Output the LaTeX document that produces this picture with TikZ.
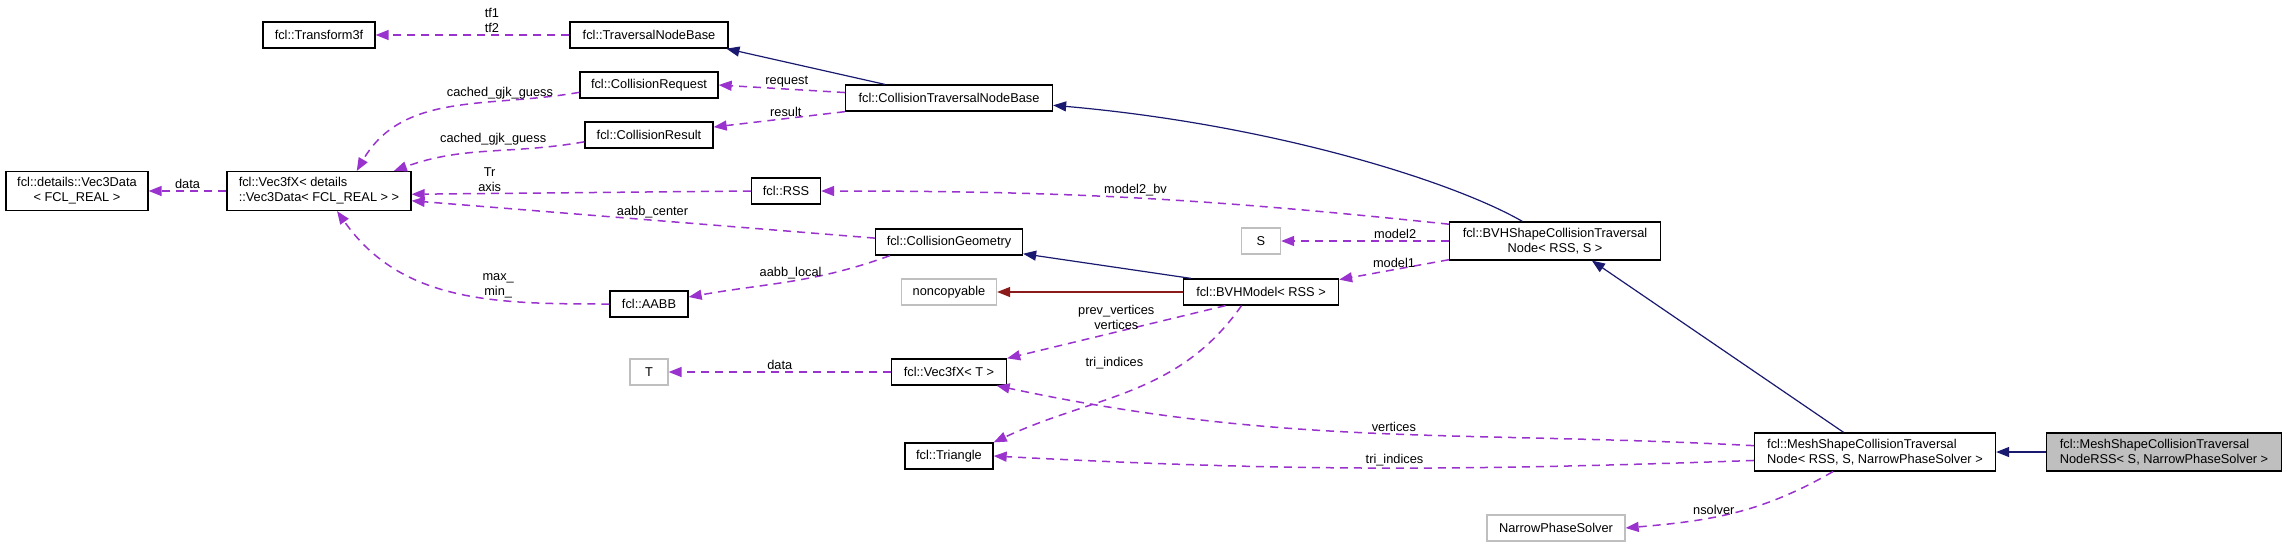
\documentclass[tikz,border=0pt]{standalone}
\usepackage{fontspec}
\setmainfont{Liberation Sans}
\usepackage{tikz}
\usetikzlibrary{arrows.meta}
\definecolor{dxpurple}{HTML}{9A32CD}
\definecolor{dxnavy}{HTML}{191970}
\definecolor{dxred}{HTML}{8B1A1A}
\definecolor{dxgray}{HTML}{BFBFBF}

\begin{document}
\begin{tikzpicture}[x=1pt, y=1pt, font=\fontsize{12.8}{15}\selectfont,
  cls/.style={draw=black, line width=1.3pt, fill=white, inner xsep=9pt, inner ysep=6pt, minimum height=26pt},
  extcls/.style={cls, draw=dxgray},
  curcls/.style={cls, fill=dxgray},
  usesedge/.style={draw=dxpurple, line width=1.5pt, dash pattern=on 8pt off 6pt, -{Triangle[length=13pt, width=10pt]}},
  inhedge/.style={draw=dxnavy, line width=1.2pt, -{Triangle[length=13pt, width=10pt]}},
  privedge/.style={draw=dxred, line width=1.2pt, -{Triangle[length=13pt, width=10pt]}},
  lbl/.style={inner sep=1.5pt, align=center}]
  \useasboundingbox (0,0) rectangle (2288,-547);
  \node[cls, align=center, minimum width=142pt] (vecdata) at (77,-191) {fcl::details::Vec3Data\\< FCL\_REAL >};
  \node[cls, align=left, minimum width=184pt] (vecfx) at (319,-191) {fcl::Vec3fX< details\\::Vec3Data< FCL\_REAL > >};
  \node[cls, minimum width=112pt] (transform) at (319,-35) {fcl::Transform3f};
  \node[cls, minimum width=158pt] (travbase) at (649,-35) {fcl::TraversalNodeBase};
  \node[cls, minimum width=138pt] (colreq) at (649,-85) {fcl::CollisionRequest};
  \node[cls, minimum width=128pt] (colres) at (649,-135) {fcl::CollisionResult};
  \node[cls, minimum width=69pt] (rss) at (786,-191) {fcl::RSS};
  \node[cls, minimum width=78pt] (aabb) at (649,-304) {fcl::AABB};
  \node[extcls, minimum width=38pt] (tnode) at (649,-372) {T};
  \node[cls, minimum width=207pt] (ctnb) at (949,-98) {fcl::CollisionTraversalNodeBase};
  \node[cls, minimum width=147pt] (colgeom) at (949,-242) {fcl::CollisionGeometry};
  \node[extcls, minimum width=95pt] (noncopy) at (949,-292) {noncopyable};
  \node[cls, minimum width=115pt] (vecfxT) at (949,-372) {fcl::Vec3fX< T >};
  \node[cls, minimum width=88pt] (triangle) at (949,-456) {fcl::Triangle};
  \node[extcls, minimum width=39pt] (snode) at (1261,-241) {S};
  \node[cls, minimum width=155pt] (bvhmodel) at (1261,-292) {fcl::BVHModel< RSS >};
  \node[cls, align=center, minimum width=211pt] (bvhshape) at (1555,-241) {fcl::BVHShapeCollisionTraversal\\Node< RSS, S >};
  \node[extcls, minimum width=138pt] (nps) at (1556,-528) {NarrowPhaseSolver};
  \node[cls, align=left, minimum width=241pt] (meshshape) at (1875,-452) {fcl::MeshShapeCollisionTraversal\\Node< RSS, S, NarrowPhaseSolver >};
  \node[curcls, align=left, minimum width=235pt] (noderss) at (2164,-452) {fcl::MeshShapeCollisionTraversal\\NodeRSS< S, NarrowPhaseSolver >};

  \draw[usesedge] (travbase) -- node[lbl, above, pos=0.4] {tf1\\tf2} (transform);
  \draw[inhedge] (ctnb.168) -- (travbase.-10);
  \draw[usesedge] (ctnb.177) -- node[lbl, above, pos=0.46] {request} (colreq.east);
  \draw[usesedge] (ctnb.south west) -- node[lbl, above, pos=0.45] {result} (colres.7);
  \draw[usesedge] (colreq.186) to[out=190, in=60] node[lbl, above, pos=0.3] {cached\_gjk\_guess} (vecfx.28);
  \draw[usesedge] (colres.186) to[out=190, in=20] node[lbl, above=4pt, pos=0.47] {cached\_gjk\_guess} (vecfx.15);
  \draw[usesedge] (vecfx) -- node[lbl, above] {data} (vecdata);
  \draw[usesedge] (rss.west) -- node[lbl, above, pos=0.77] {Tr\\axis} (vecfx.-2);
  \draw[usesedge] (colgeom.177) -- node[lbl, above, pos=0.48] {aabb\_center} (vecfx.-6);
  \draw[usesedge] (aabb.west) to[out=180, in=-55] node[lbl, above, pos=0.35] {max\_\\min\_} (vecfx.-48);
  \draw[usesedge] (colgeom.193) to[out=200, in=10] node[lbl, above, pos=0.5] {aabb\_local} (aabb.10);
  \draw[inhedge] (bvhshape.149) .. controls +(150:80) and +(-5:220) .. (ctnb.-4);
  \draw[usesedge] (bvhshape.171) to[out=174, in=0] node[lbl, above, pos=0.5] {model2\_bv} (rss.east);
  \draw[usesedge] (bvhshape.west) -- node[lbl, above, pos=0.32] {model2} (snode);
  \draw[usesedge] (bvhshape.190) -- node[lbl, above, pos=0.5] {model1} (bvhmodel.9);
  \draw[inhedge] (bvhmodel.169) -- (colgeom.-9);
  \draw[privedge] (bvhmodel) -- (noncopy);
  \draw[usesedge] (bvhmodel.201) -- node[lbl, above, pos=0.5] {prev\_vertices\\vertices} (vecfxT.north east);
  \draw[usesedge] (bvhmodel.215) to[out=235, in=25] node[lbl, left=38pt, pos=0.28] {tri\_indices} (triangle.north east);
  \draw[usesedge] (vecfxT) -- node[lbl, above] {data} (tnode);
  \draw[usesedge] (meshshape.177) to[out=177, in=-12] node[lbl, above, pos=0.47] {vertices} (vecfxT.-16);
  \draw[usesedge] (meshshape.184) to[out=182, in=-3] node[lbl, above, pos=0.47] {tri\_indices} (triangle.east);
  \draw[inhedge] (meshshape.148) -- (bvhshape.-28);
  \draw[usesedge] (meshshape.205) to[out=210, in=5] node[lbl, above, pos=0.6] {nsolver} (nps.east);
  \draw[inhedge] (noderss) -- (meshshape);
\end{tikzpicture}
\end{document}
